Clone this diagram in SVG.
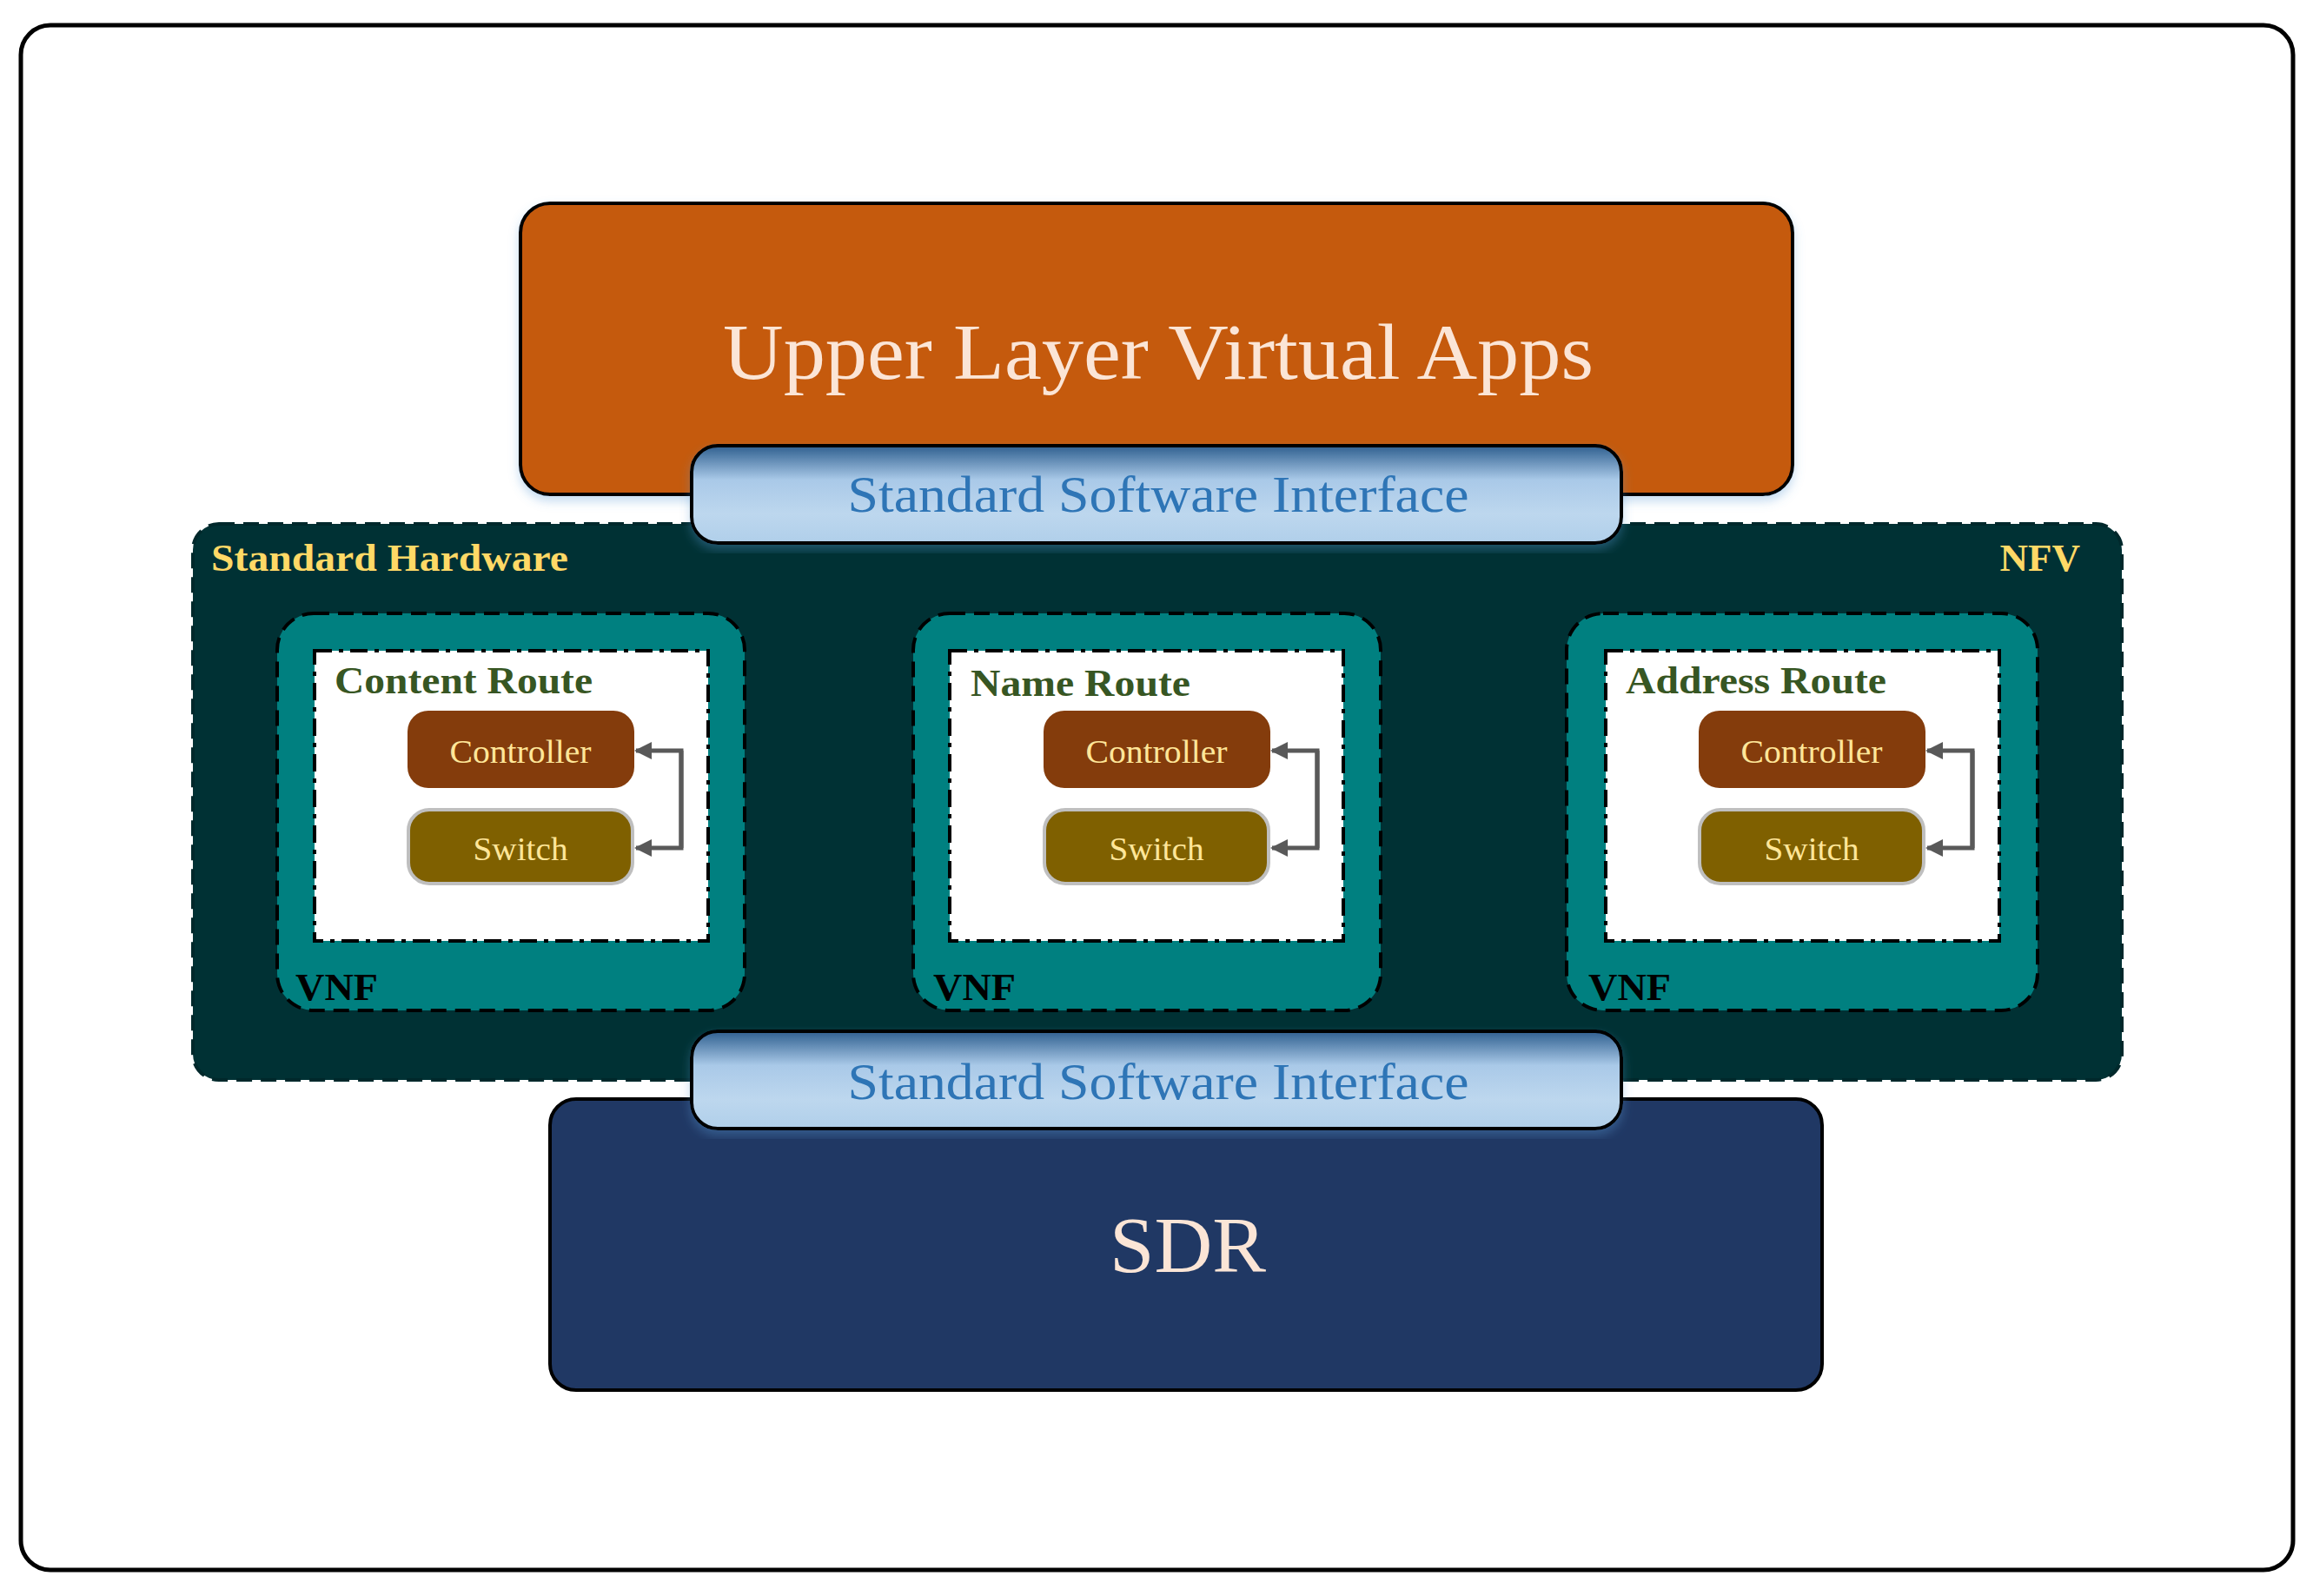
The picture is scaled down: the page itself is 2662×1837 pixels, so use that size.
<svg xmlns="http://www.w3.org/2000/svg" width="2662" height="1837" viewBox="0 0 2662 1837">
<style>
text{font-family:"Liberation Serif","Times New Roman",serif}
.big{font-size:92px;fill:#FBE5D6;text-anchor:middle}
.ssi{font-size:60px;fill:#2E75B6;text-anchor:middle}
.vnf{fill:#008080;stroke:#000;stroke-width:4;stroke-dasharray:18 10}
.inner{fill:#fff;stroke:#000;stroke-width:4;stroke-dasharray:20 8 5 8}
.title{font-size:45px;font-weight:bold;fill:#375623}
.vl{font-size:45px;font-weight:bold;fill:#000}
.ctl{fill:#843C0C}
.sw{fill:#7F6000;stroke:#BFBFBF;stroke-width:4}
.bt{font-size:38px;fill:#FFE699;text-anchor:middle}
.hw{font-size:45px;font-weight:bold;fill:#FFD966}
.arr{fill:none;stroke:#595959;stroke-width:5;marker-end:url(#ah)}
</style>
<defs>
<marker id="ah" viewBox="0 0 10 10" refX="9" refY="5" markerWidth="4" markerHeight="4" orient="auto"><path d="M0,0L10,5L0,10z" fill="#595959"/></marker>
<linearGradient id="g" x1="0" y1="0" x2="0" y2="1"><stop offset="0" stop-color="#2F5F8F"/><stop offset="0.35" stop-color="#A9C9E8"/><stop offset="0.7" stop-color="#BDD7EE"/><stop offset="1" stop-color="#B0CFEA"/></linearGradient>
<filter id="sh" x="-5%" y="-5%" width="110%" height="115%"><feDropShadow dx="0" dy="6" stdDeviation="6" flood-color="#5B9BD5" flood-opacity="0.35"/></filter>
</defs>
<rect x="0" y="0" width="2662" height="1837" fill="#fff"/>
<rect x="24" y="29" width="2615" height="1778" rx="34" fill="#fff" stroke="#000" stroke-width="5"/>
<g id="upper"><rect x="599" y="234" width="1464" height="335" rx="34" fill="#C55A11" stroke="#000" stroke-width="4" filter="url(#sh)"/><text class="big" x="1333" y="436" textLength="1002" lengthAdjust="spacingAndGlyphs">Upper Layer Virtual Apps</text></g>
<g id="nfv"><rect x="222" y="603" width="2220" height="640" rx="30" fill="#003134" stroke="#00282B" stroke-width="4" stroke-dasharray="18 10"/>
<text class="hw" x="243" y="657" textLength="411" lengthAdjust="spacingAndGlyphs">Standard Hardware</text><text class="hw" x="2394" y="657" text-anchor="end">NFV</text></g>
<g id="ssi-top"><rect x="796" y="513" width="1070" height="112" rx="30" fill="url(#g)" stroke="#000" stroke-width="4" filter="url(#sh)"/><text class="ssi" x="1333" y="589" textLength="715" lengthAdjust="spacingAndGlyphs">Standard Software Interface</text></g>
<g id="vnf1"><rect class="vnf" x="319" y="706" width="538" height="457" rx="42"/><rect class="inner" x="362" y="749" width="453" height="334"/>
<text class="title" x="385" y="798" textLength="297" lengthAdjust="spacingAndGlyphs">Content Route</text><text class="vl" x="340" y="1151" textLength="95" lengthAdjust="spacingAndGlyphs">VNF</text>
<rect class="ctl" x="469" y="818" width="261" height="89" rx="24"/><text class="bt" x="599" y="878" textLength="163" lengthAdjust="spacingAndGlyphs">Controller</text>
<rect class="sw" x="470" y="932" width="258" height="85" rx="24"/><text class="bt" x="599" y="990" textLength="109" lengthAdjust="spacingAndGlyphs">Switch</text></g>
<g id="vnf2"><rect class="vnf" x="1051" y="706" width="538" height="457" rx="42"/><rect class="inner" x="1093" y="749" width="453" height="334"/>
<text class="title" x="1117" y="801" textLength="253" lengthAdjust="spacingAndGlyphs">Name Route</text><text class="vl" x="1074" y="1151" textLength="95" lengthAdjust="spacingAndGlyphs">VNF</text>
<rect class="ctl" x="1201" y="818" width="261" height="89" rx="24"/><text class="bt" x="1331" y="878" textLength="163" lengthAdjust="spacingAndGlyphs">Controller</text>
<rect class="sw" x="1202" y="932" width="258" height="85" rx="24"/><text class="bt" x="1331" y="990" textLength="109" lengthAdjust="spacingAndGlyphs">Switch</text></g>
<g id="vnf3"><rect class="vnf" x="1803" y="706" width="542" height="457" rx="42"/><rect class="inner" x="1848" y="749" width="453" height="334"/>
<text class="title" x="1871" y="798" textLength="300" lengthAdjust="spacingAndGlyphs">Address Route</text><text class="vl" x="1828" y="1151" textLength="95" lengthAdjust="spacingAndGlyphs">VNF</text>
<rect class="ctl" x="1955" y="818" width="261" height="89" rx="24"/><text class="bt" x="2085" y="878" textLength="163" lengthAdjust="spacingAndGlyphs">Controller</text>
<rect class="sw" x="1956" y="932" width="258" height="85" rx="24"/><text class="bt" x="2085" y="990" textLength="109" lengthAdjust="spacingAndGlyphs">Switch</text></g>
<g id="connectors">
<path class="arr" d="M784,864V976H732"/><path class="arr" d="M784,976V864H732"/>
<path class="arr" d="M1516,864V976H1464"/><path class="arr" d="M1516,976V864H1464"/>
<path class="arr" d="M2270,864V976H2218"/><path class="arr" d="M2270,976V864H2218"/>
</g>
<g id="sdr"><rect x="633" y="1265" width="1464" height="335" rx="30" fill="#203864" stroke="#000" stroke-width="4"/><text class="big" x="1367" y="1464" textLength="180" lengthAdjust="spacingAndGlyphs">SDR</text></g>
<g id="ssi-bot"><rect x="796" y="1187" width="1070" height="112" rx="30" fill="url(#g)" stroke="#000" stroke-width="4" filter="url(#sh)"/><text class="ssi" x="1333" y="1265" textLength="715" lengthAdjust="spacingAndGlyphs">Standard Software Interface</text></g>
</svg>
